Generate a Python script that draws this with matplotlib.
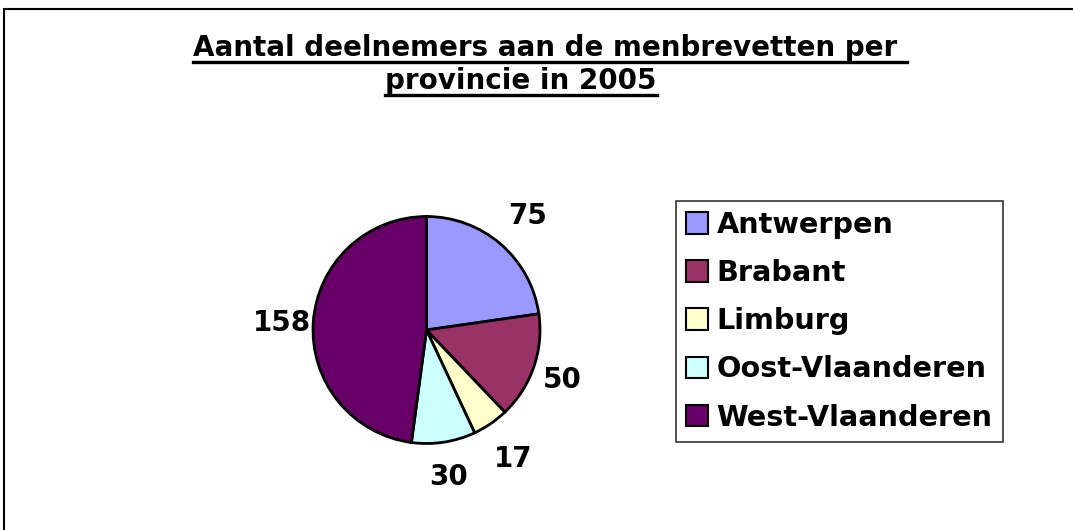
import matplotlib
matplotlib.use("Agg")
import numpy as np
import matplotlib.pyplot as plt
from matplotlib.patches import Rectangle, Patch
from matplotlib.lines import Line2D

# data
provinces = ["Antwerpen", "Brabant", "Limburg", "Oost-Vlaanderen", "West-Vlaanderen"]
participants = [75, 50, 17, 30, 158]
colors = ["#9999FF", "#993366", "#FFFFCC", "#CCFFFF", "#660066"]
title_lines = ["Aantal deelnemers aan de menbrevetten per ", "provincie in 2005"]

W, H = 1073, 530
plt.rcParams["font.family"] = ["DejaVu Sans"]
plt.rcParams["font.weight"] = "bold"
FS = 20

fig = plt.figure(figsize=(W / 100, H / 100), dpi=100)
fig.patch.set_facecolor("white")

# outer chart border (runs off the right and bottom edges)
fig.patches.append(Rectangle((4 / W, -0.05), 1.1, 1 - 9 / H + 0.05,
                             transform=fig.transFigure, fill=False,
                             edgecolor="black", linewidth=1.5))

# pie
cx, cy, r = 426.5, 330, 113.5
ax = fig.add_axes([(cx - r) / W, (H - cy - r) / H, 2 * r / W, 2 * r / H])
wedges, texts = ax.pie(participants, colors=colors, startangle=90,
                       counterclock=False, labels=[str(v) for v in participants],
                       labeldistance=1.3,
                       wedgeprops=dict(edgecolor="black", linewidth=2.0),
                       textprops=dict(fontsize=FS, fontweight="bold"))
# excel-like label spacing, measured along each wedge's middle angle
label_dist = [1.36, 1.27, 1.35, 1.28, 1.28]
for w, t, d in zip(wedges, texts, label_dist):
    ang = np.deg2rad((w.theta1 + w.theta2) / 2)
    t.set_position((d * np.cos(ang), d * np.sin(ang)))
    t.set_ha("center")
    t.set_va("center_baseline")
ax.set_xlim(-1, 1)
ax.set_ylim(-1, 1)
ax.set_aspect("equal")

# legend
handles = [Patch(facecolor=c, edgecolor="black", linewidth=1.5) for c in colors]
leg = fig.legend(handles, provinces, loc="upper left",
                 bbox_to_anchor=(676 / W, 1 - 201 / H), borderaxespad=0,
                 fontsize=20.7, handlelength=0.78, handleheight=0.78,
                 handletextpad=0.28, labelspacing=0.7, borderpad=0.35,
                 fancybox=False, shadow=False, frameon=True)
leg.get_frame().set_edgecolor("black")
leg.get_frame().set_linewidth(1.2)

# title, underlined by hand
title_x = [550, 521]
title_y = [56, 89]
ts = []
for line, x, y in zip(title_lines, title_x, title_y):
    ts.append(fig.text(x / W, 1 - y / H, line, ha="center", va="baseline",
                       fontsize=FS, fontweight="bold"))
fig.canvas.draw()
renderer = fig.canvas.get_renderer()
for t, y in zip(ts, title_y):
    bb = t.get_window_extent(renderer)
    uy = 1 - (y + 6) / H
    fig.add_artist(Line2D([bb.x0 / W, bb.x1 / W], [uy, uy],
                          transform=fig.transFigure, color="black",
                          linewidth=2.4))

fig.savefig("out.png", dpi=100)
